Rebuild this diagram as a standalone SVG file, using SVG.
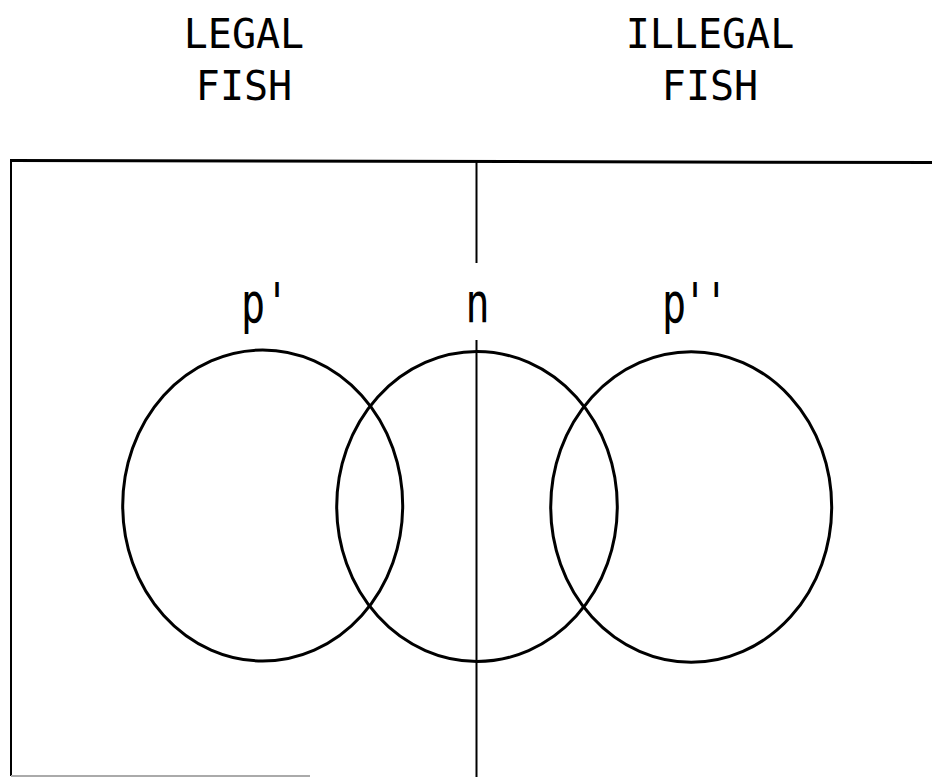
<svg xmlns="http://www.w3.org/2000/svg" width="932" height="777" viewBox="0 0 932 777">
<style>
.ttl{font-family:"DejaVu Sans Mono","Liberation Mono",monospace;font-size:40px;fill:#000;text-anchor:middle}
.lbl{font-family:"DejaVu Sans Mono","Liberation Mono",monospace;font-size:40px;fill:#000}
.set{fill:none;stroke:#000;stroke-width:3}
.frame{fill:none;stroke:#000;stroke-width:2}
</style>
<rect width="932" height="777" fill="#fff"/>
<g id="frame">
<line class="frame" x1="11" y1="160" x2="11" y2="776"/>
<line x1="10" y1="160.5" x2="932" y2="162.5" stroke="#000" stroke-width="3"/>
<line x1="11" y1="776" x2="310" y2="776" stroke="#aaa" stroke-width="2"/>
</g>
<g id="title-legal">
<text class="ttl" x="244" y="48">LEGAL</text>
<text class="ttl" x="244" y="100">FISH</text>
</g>
<g id="title-illegal">
<text class="ttl" x="710" y="48">ILLEGAL</text>
<text class="ttl" x="710" y="100">FISH</text>
</g>
<g id="divider">
<line class="frame" x1="476.5" y1="161" x2="476.5" y2="263"/>
<line class="frame" x1="476.5" y1="340" x2="476.5" y2="777"/>
</g>
<g id="set-p1">
<ellipse class="set" cx="262.7" cy="505.5" rx="140" ry="155.5"/>
<text class="lbl" transform="translate(241,322) scale(1,1.38)" x="0" y="0">p'</text>
</g>
<g id="set-n">
<ellipse class="set" cx="477" cy="506.5" rx="140.3" ry="155"/>
<text class="lbl" transform="translate(477.5,322) scale(1,1.38)" x="0" y="0" text-anchor="middle">n</text>
</g>
<g id="set-p2">
<ellipse class="set" cx="691.2" cy="507" rx="140.5" ry="155.3"/>
<text class="lbl" transform="translate(662,322) scale(1,1.38)" x="0" y="0" letter-spacing="-3">p''</text>
</g>
</svg>
